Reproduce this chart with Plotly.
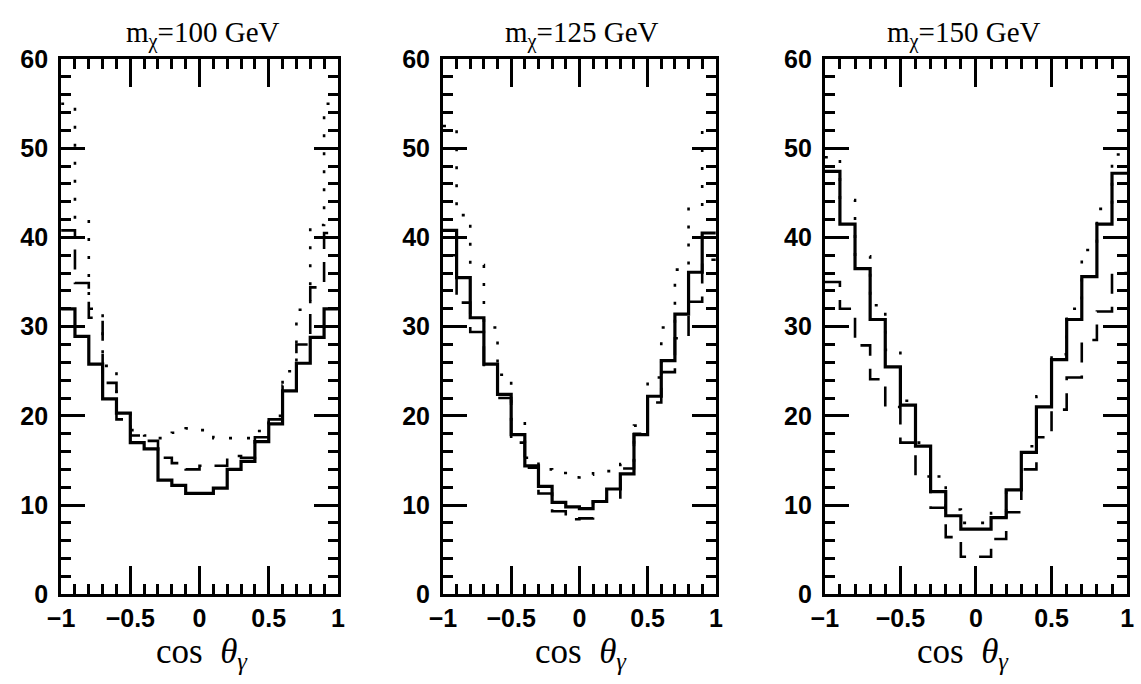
import plotly.graph_objects as go

# ---- data ----
bin_edges = [-1.0, -0.9, -0.8, -0.7, -0.6, -0.5, -0.4, -0.3, -0.2, -0.1, 0.0,
             0.1, 0.2, 0.3, 0.4, 0.5, 0.6, 0.7, 0.8, 0.9, 1.0]

masses = ["100", "125", "150"]

solid_100 = [32.0, 28.9, 25.8, 21.9, 20.3, 17.0, 16.3, 12.8, 12.2, 11.3,
             11.3, 11.9, 14.0, 14.9, 17.1, 19.1, 22.8, 25.9, 28.8, 32.0]
dashed_100 = [40.8, 34.9, 31.0, 23.7, 19.6, 17.8, 17.2, 15.3, 14.7, 14.0,
              14.4, 14.4, 15.5, 15.3, 17.6, 19.6, 23.4, 28.0, 34.4, 40.5]
dotted_100 = [55.0, 42.0, 32.0, 25.6, 20.4, 18.4, 17.8, 17.5, 18.1, 18.6,
              18.4, 17.5, 17.5, 17.5, 18.3, 20.0, 25.0, 31.9, 41.4, 55.0]

solid_125 = [40.8, 35.5, 31.0, 25.8, 22.4, 17.9, 14.4, 12.1, 10.3, 9.8,
             9.6, 10.4, 11.8, 13.5, 17.9, 22.2, 26.2, 31.4, 36.1, 40.5]
dashed_125 = [38.0, 32.7, 29.4, 25.7, 22.0, 17.0, 14.2, 11.3, 9.3, 8.4,
              8.5, 10.4, 10.7, 14.1, 18.0, 21.5, 24.9, 28.7, 32.8, 37.5]
dotted_125 = [52.5, 42.5, 36.9, 29.9, 24.6, 19.6, 15.3, 14.0, 13.6, 13.1,
              13.4, 13.8, 13.8, 14.6, 18.9, 24.3, 29.9, 36.4, 43.5, 52.0]

solid_150 = [47.4, 41.5, 36.5, 30.8, 25.5, 21.2, 16.6, 11.5, 8.8, 7.3,
             7.3, 8.6, 11.7, 15.9, 21.0, 26.3, 30.8, 35.6, 41.5, 47.2]
dashed_150 = [35.0, 32.0, 27.9, 24.1, 21.0, 17.0, 13.2, 9.7, 6.4, 4.2,
              4.2, 6.2, 9.2, 14.0, 17.6, 20.7, 24.3, 28.5, 31.7, 36.0]
dotted_150 = [49.0, 44.2, 37.9, 32.4, 27.4, 21.7, 17.0, 13.2, 9.5, 8.0,
              8.0, 9.1, 11.5, 16.6, 22.2, 26.9, 32.0, 38.6, 43.2, 49.3]

panels = [
    (solid_100, dashed_100, dotted_100),
    (solid_125, dashed_125, dotted_125),
    (solid_150, dashed_150, dotted_150),
]

# ---- layout geometry (pixels in a 1141 x 684 canvas) ----
W, H = 1141, 684
x_frames = [(48, 330), (437, 715), (826, 1134)]
y_top, y_bot = 47, 605
title_centers = [192, 578, 967]

fig = go.Figure()

styles = [
    dict(width=2.6, dash="3px,15px"),   # dotted
    dict(width=2.6, dash="20px,13px"),  # dashed
    dict(width=3.2, dash="solid"),      # solid
]

for i, (s, d, o) in enumerate(panels):
    xa = "x" if i == 0 else f"x{i+1}"
    ya = "y" if i == 0 else f"y{i+1}"
    for vals, st in zip([o, d, s], styles):
        fig.add_trace(go.Scatter(
            x=bin_edges, y=vals + [vals[-1]], mode="lines",
            line=dict(shape="hv", color="black", width=st["width"], dash=st["dash"]),
            xaxis=xa, yaxis=ya, showlegend=False, hoverinfo="skip"))

tickfont = dict(family="Liberation Sans, Arial, sans-serif", size=25, color="black", weight="bold")
common = dict(showline=True, linecolor="black", linewidth=3, mirror="allticks",
              ticks="inside", tickwidth=3, tickcolor="black", showgrid=False,
              zeroline=False, fixedrange=True)

layout = dict(width=W, height=H, margin=dict(l=0, r=0, t=0, b=0),
              paper_bgcolor="white", plot_bgcolor="white", showlegend=False)

for i, (x0, x1) in enumerate(x_frames):
    sx = "" if i == 0 else str(i + 1)
    layout["xaxis" + sx] = dict(
        common, domain=[x0 / W, x1 / W], range=[-1, 1], anchor="y" + sx,
        tickfont=tickfont,
        tickmode="linear", tick0=-1, dtick=0.5, ticklen=28, ticklabelstandoff=0,
        minor=dict(ticks="inside", tick0=-1, dtick=0.1, ticklen=10, tickwidth=2.5, tickcolor="black"))
    layout["yaxis" + sx] = dict(
        common, domain=[1 - y_bot / H, 1 - y_top / H], range=[0, 60], anchor="x" + sx,
        tickfont=tickfont,
        tickmode="linear", tick0=0, dtick=10, ticklen=24, ticklabelstandoff=5,
        minor=dict(ticks="inside", tick0=0, dtick=2, ticklen=10, tickwidth=2.5, tickcolor="black"))

annotations = []
for i, m in enumerate(masses):
    cx = title_centers[i] / W
    annotations.append(dict(
        x=cx, y=1 - 21 / H, xref="paper", yref="paper", showarrow=False,
        xanchor="center", yanchor="middle",
        text=f"m<sub>χ</sub>=" + m + " GeV",
        font=dict(family="Liberation Serif, DejaVu Serif, serif", size=29, color="black")))
    annotations.append(dict(
        x=cx, y=1 - 667 / H, xref="paper", yref="paper", showarrow=False,
        xanchor="center", yanchor="middle",
        text="cos&nbsp;&nbsp;<i>θ</i><sub><i>γ</i></sub>",
        font=dict(family="Liberation Serif, DejaVu Serif, serif", size=35, color="black")))
layout["annotations"] = annotations

fig.update_layout(**layout)
fig.write_html("out.html")
